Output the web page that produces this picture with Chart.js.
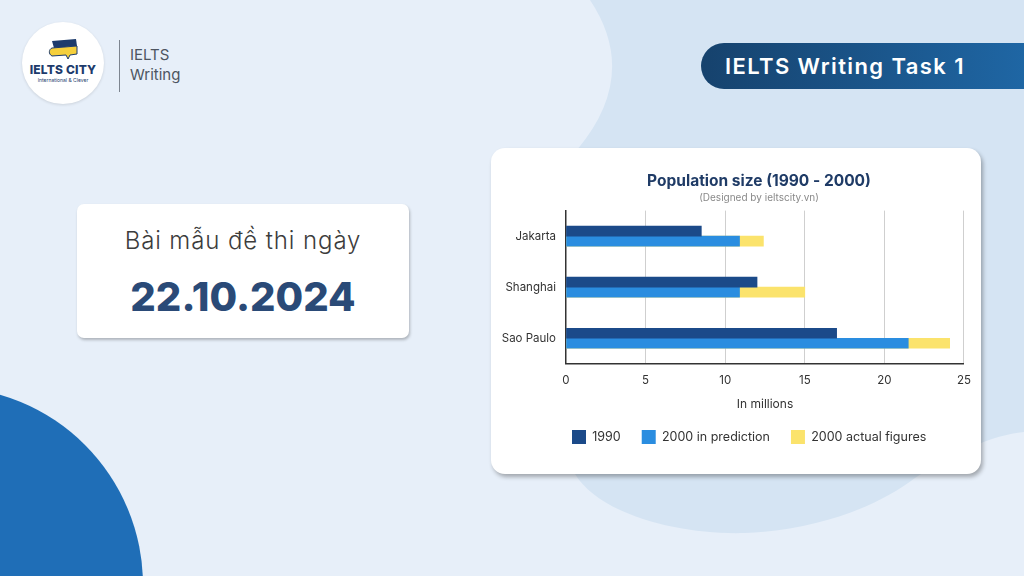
<!DOCTYPE html>
<html>
<head>
<meta charset="utf-8">
<script src="https://cdn.jsdelivr.net/npm/chart.js@4"></script>
<style>
  html, body { margin: 0; padding: 0; }
  body { width: 1024px; height: 576px; position: relative; overflow: hidden; font-family: Inter, "Noto Sans", sans-serif; background: #e7eff9; }
  #bg { position: absolute; left: 0; top: 0; }
  .logo { position: absolute; left: 22px; top: 22px; width: 82px; height: 82px; border-radius: 50%; background: #fff; box-shadow: 0 1px 3px rgba(0,0,0,0.12); }
  .logo .name { position: absolute; left: 0; width: 82px; top: 40px; text-align: center; font-weight: 800; font-size: 12px; color: #1d3b6c; letter-spacing: 0.2px; }
  .logo .slogan { position: absolute; left: 0; width: 82px; top: 55px; text-align: center; font-size: 5px; color: #1d3b6c; }
  .sep { position: absolute; left: 119px; top: 40px; width: 1px; height: 52px; background: #7d8590; }
  .brand { position: absolute; left: 130px; top: 45px; font-size: 15px; line-height: 20px; color: #4d5561; }
  .pill { position: absolute; left: 701px; top: 43px; width: 340px; height: 46px; border-radius: 23px 0 0 23px; background: linear-gradient(90deg, #16426d, #1f68a7); color: #fff; font-size: 22px; font-weight: 600; letter-spacing: 1.4px; line-height: 46px; padding-left: 24px; box-sizing: border-box; }
  .datecard { position: absolute; left: 77px; top: 204px; width: 332px; height: 134px; background: #fff; border-radius: 7px; box-shadow: 1px 2px 3px rgba(0,0,0,0.25); text-align: center; }
  .datecard .l1 { position: absolute; left: 0; width: 100%; top: 22px; font-size: 24px; font-weight: 300; letter-spacing: 0.9px; color: #3c3c3c; }
  .datecard .l2 { position: absolute; left: 0; width: 100%; top: 68px; font-size: 40px; font-weight: 800; color: #2a4a77; }
  .chartcard { position: absolute; left: 491px; top: 148px; width: 490px; height: 326px; background: #fff; border-radius: 14px; box-shadow: 2px 3px 4px rgba(0,0,0,0.3); overflow: hidden; }
</style>
</head>
<body>
<svg id="bg" width="1024" height="576">
  <path d="M590,0 Q640,75 577,150 L560,300 L575,474 C600,515 680,535 745,533 C820,530 880,505 915,478 C950,455 990,435 1024,432 L1024,0 Z" fill="#d5e4f3"/>
  <circle cx="-55" cy="585" r="198" fill="#1f6eb7"/>
</svg>

<div class="logo">
  <svg width="82" height="82" style="position:absolute;left:0;top:0">
    <path d="M30,19 L54,17 L55,24 L32,26 Z" fill="#1d3b6c"/>
    <path d="M30,26 C27,27 26,32 30,34 L44,33 L46,37 L48,33 L55,32 L55,24 Z" fill="#f5cf3c" stroke="#1d3b6c" stroke-width="1"/>
  </svg>
  <div class="name">IELTS CITY</div>
  <div class="slogan">International &amp; Clever</div>
</div>
<div class="sep"></div>
<div class="brand">IELTS<br>Writing</div>

<div class="pill">IELTS Writing Task 1</div>

<div class="datecard">
  <div class="l1">Bài mẫu đề thi ngày</div>
  <div class="l2">22.10.2024</div>
</div>

<div class="chartcard">
  <canvas id="myChart" width="490" height="326"></canvas>
</div>

<script>
const cities = ['Jakarta', 'Shanghai', 'Sao Paulo'];
const pop1990 = [8.5, 12.0, 17.0];
const pop2000Prediction = [10.9, 10.9, 21.5];
const pop2000Actual = [12.4, 15.0, 24.1];
const xTicks = [0, 5, 10, 15, 20, 25];

window.addEventListener('load', setup);

function setup() {
    Chart.defaults.font.family = 'Inter, "Noto Sans", sans-serif';
    Chart.defaults.color = '#333';
    const ctx = document.getElementById('myChart').getContext('2d');
    const myChart = new Chart(ctx, {
        type: 'bar',
        data: {
            labels: cities,
            datasets: [{
                label: '1990',
                data: pop1990,
                backgroundColor: '#1b4a89',
                stack: 'a',
                barThickness: 10
            }, {
                label: '2000 in prediction',
                data: pop2000Prediction,
                backgroundColor: '#2a8de0',
                stack: 'b',
                barThickness: 10
            }, {
                label: '2000 actual figures',
                data: pop2000Actual,
                backgroundColor: '#fbe36c',
                stack: 'b',
                barThickness: 10
            }]
        },
        options: {
            indexAxis: 'y',
            responsive: false,
            animation: false,
            layout: { padding: { left: 60, right: 14, top: 0, bottom: 20 } },
            plugins: {
                title: {
                    display: true,
                    text: 'Population size (1990 - 2000)',
                    color: '#1f3b66',
                    font: { size: 15.5, weight: 'bold' },
                    padding: { top: 24, bottom: 0 }
                },
                subtitle: {
                    display: true,
                    text: '(Designed by ieltscity.vn)',
                    color: '#8a8a8a',
                    font: { size: 10 },
                    padding: { top: 1, bottom: 7 }
                },
                legend: {
                    position: 'bottom',
                    align: 'start',
                    labels: { boxWidth: 14, boxHeight: 14, padding: 21, font: { size: 12.5 }, color: '#333' }
                },
                tooltip: { enabled: false }
            },
            scales: {
                x: {
                    stacked: false,
                    min: 0,
                    max: 25,
                    afterBuildTicks: s => { s.ticks = xTicks.map(v => ({ value: v })); },
                    grid: {
                        color: c => (c.tick && c.tick.value === 0) ? 'rgba(0,0,0,0)' : '#cfcfcf',
                        drawTicks: false
                    },
                    border: { display: true, color: '#333', width: 1.5 },
                    ticks: { padding: 10, font: { size: 11.5 }, color: '#333' },
                    title: {
                        display: true,
                        text: 'In millions',
                        color: '#333',
                        font: { size: 12 },
                        padding: { top: 0, bottom: -3 }
                    }
                },
                y: {
                    stacked: true,
                    grid: { display: false, drawTicks: false },
                    border: { display: true, color: '#333', width: 1.5 },
                    ticks: { padding: 10, font: { size: 11.5 }, color: '#333' },
                    afterFit: s => {
                        // narrow box so the title centres like the original; let labels spill left
                        s.width = 15;
                        s._computeLabelArea = () => undefined;
                    }
                }
            }
        }
    });
}
</script>
</body>
</html>
